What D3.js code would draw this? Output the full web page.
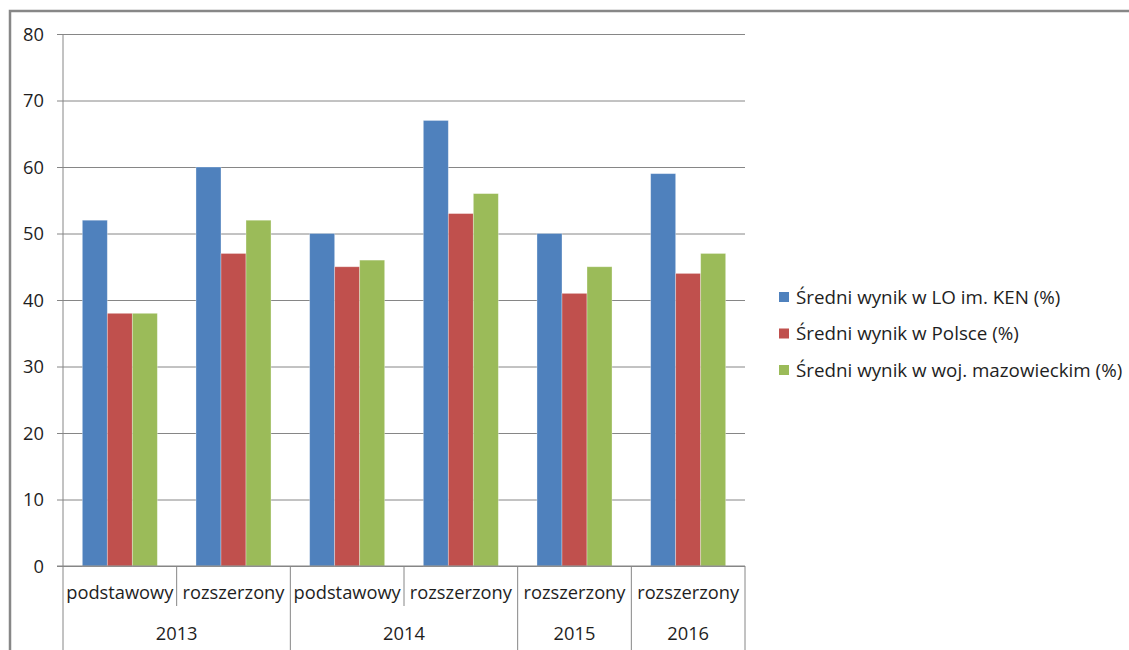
<!DOCTYPE html>
<html><head><meta charset="utf-8">
<script src="https://cdn.jsdelivr.net/npm/d3@7"></script>
<style>body{margin:0;background:#fff}svg{display:block}text{font-family:"Open Sans","Liberation Sans",Arial,sans-serif;fill:#1e1e1e}</style>
</head><body>
<script>
const years = ["2013","2013","2014","2014","2015","2016"];
const levels = ["podstawowy","rozszerzony","podstawowy","rozszerzony","rozszerzony","rozszerzony"];
const seriesNames = ["Średni wynik w LO im. KEN (%)","Średni wynik w Polsce (%)","Średni wynik w woj. mazowieckim (%)"];
const seriesLO = [52,60,50,67,50,59];
const seriesPL = [38,47,45,53,41,44];
const seriesMAZ = [38,52,46,56,45,47];
const colors = ["#4F81BD","#C0504D","#9BBB59"];
const yTicks = [0,10,20,30,40,50,60,70,80];

const W=1129,H=650;
const FS=18.3;
const svg=d3.select("body").append("svg").attr("width",W).attr("height",H);
const L=63,R=745,T=34,B=566;
const idx=d3.range(levels.length);
const x=d3.scaleBand().domain(idx).range([L,R]).paddingInner(0).paddingOuter(0);
const y=d3.scaleLinear().domain([0,80]).range([B,T]);
const xs=d3.scaleBand().domain([0,1,2]).range([0,x.bandwidth()*0.66]);
const offset=x.bandwidth()*0.17;

// border
svg.append("path").attr("d",`M10,650 V11 H1129`).attr("fill","none").attr("stroke","#878787").attr("stroke-width",2.5);

// gridlines
const ya=d3.axisLeft(y).tickValues(yTicks).tickSize(-(R-L)).tickFormat(d3.format("d")).tickPadding(0);
const gy=svg.append("g").attr("transform",`translate(${L},0)`).call(ya);
gy.select(".domain").remove();
gy.selectAll(".tick line").attr("stroke","#868686").attr("x1",-6);
gy.selectAll(".tick text").attr("x",-19).attr("font-size",FS).attr("dy","0.35em").style("fill","#1e1e1e");
svg.append("line").attr("x1",L).attr("x2",L).attr("y1",T).attr("y2",650).attr("stroke","#868686");

// bars
const data=[seriesLO,seriesPL,seriesMAZ];
data.forEach((s,si)=>{
  svg.append("g").selectAll("rect").data(s).join("rect")
    .attr("x",(d,i)=>x(i)+offset+xs(si)).attr("width",xs.bandwidth())
    .attr("y",d=>y(d)).attr("height",d=>y(0)-y(d))
    .attr("fill",colors[si]).attr("stroke","rgba(255,255,255,0.4)").attr("stroke-width",0.8);
});

// x axis lines
svg.append("line").attr("x1",L-6).attr("x2",R).attr("y1",B).attr("y2",B).attr("stroke","#868686");
idx.forEach(i=>{
  const xb=x(i)+x.bandwidth();
  const groupEnd = i===idx.length-1 || years[i]!==years[i+1];
  svg.append("line").attr("x1",xb).attr("x2",xb).attr("y1",B).attr("y2",groupEnd?650:606).attr("stroke","#868686");
  svg.append("text").attr("x",x(i)+x.bandwidth()/2).attr("y",593).attr("dy","0.35em").attr("text-anchor","middle").attr("font-size",FS).text(levels[i]);
});
const groups=d3.groups(idx,i=>years[i]);
groups.forEach(([yr,is])=>{
  const x0=x(is[0]),x1=x(is[is.length-1])+x.bandwidth();
  svg.append("text").attr("x",(x0+x1)/2).attr("y",634).attr("dy","0.35em").attr("text-anchor","middle").attr("font-size",FS).text(yr);
});

// legend
const lg=svg.append("g");
seriesNames.forEach((n,i)=>{
  const cy=297+i*36.5;
  lg.append("rect").attr("x",779).attr("y",cy-5).attr("width",10).attr("height",10).attr("fill",colors[i]);
  lg.append("text").attr("x",796).attr("y",cy).attr("dy","0.35em").attr("font-size",18.8).text(n);
});
</script>
</body></html>
